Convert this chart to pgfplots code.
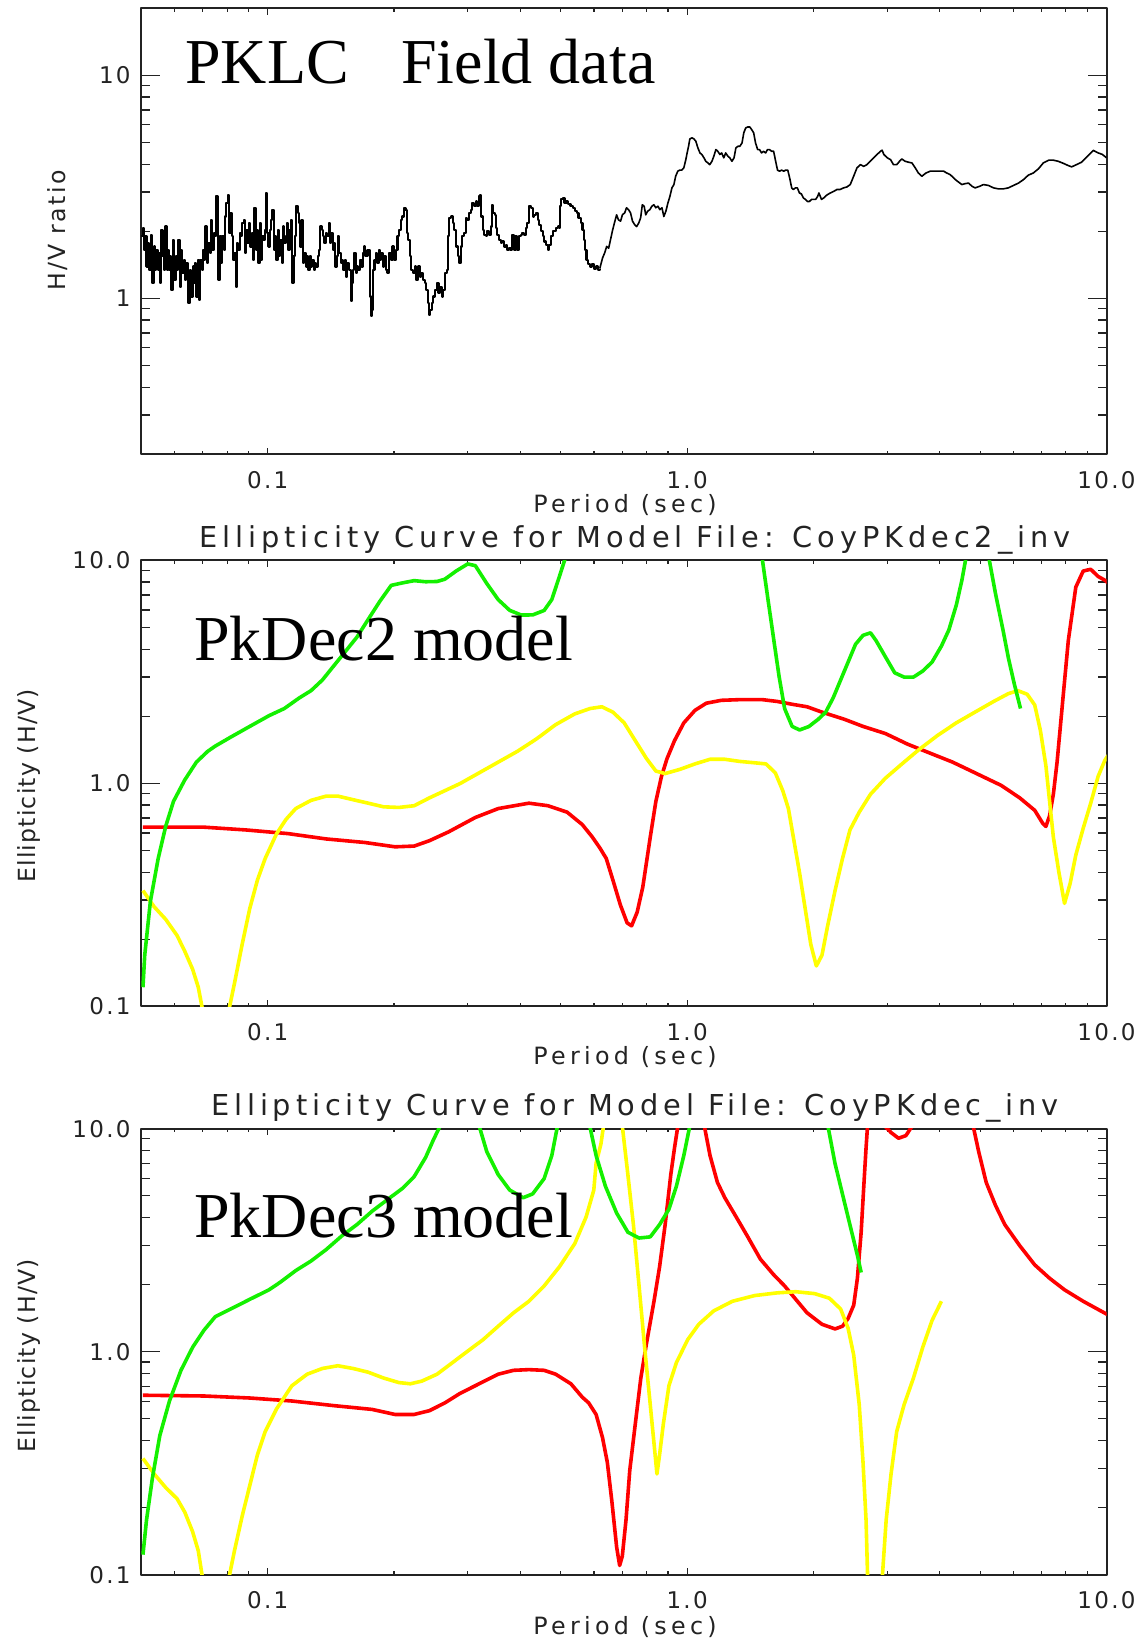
\documentclass[border=0pt]{standalone}
\usepackage{fontspec}
\setmainfont{Liberation Serif}
\newfontfamily\idltick[LetterSpace=10]{DejaVu Sans}
\newfontfamily\idltitle[LetterSpace=17]{DejaVu Sans}
\newfontfamily\idlxlab[LetterSpace=18]{DejaVu Sans}
\newfontfamily\idlylab[LetterSpace=5]{DejaVu Sans}
\usepackage{pgfplots}
\usepackage{pgfplotstable}
\pgfplotsset{compat=1.18}

\definecolor{idlred}{RGB}{255,0,0}
\definecolor{idlgreen}{RGB}{20,240,0}
\definecolor{idlyellow}{RGB}{255,255,0}
\definecolor{idlink}{RGB}{35,35,35}

\newcommand\ticklabfont{\idltick\fontsize{11.5}{13}\selectfont}
\newcommand\titlefont{\idltitle\fontsize{14.4}{16}\selectfont}
\newcommand\xlabfont{\idlxlab\fontsize{11.9}{13}\selectfont}
\newcommand\bigserif{\fontsize{32}{36}\selectfont}

% PKLC field H/V spectral ratio, short periods (noisy part): period (s), H/V
\pgfplotstableread{
p v
0.0500 1.90
0.0504 2.07
0.0506 1.65
0.0510 1.90
0.0514 1.39
0.0518 1.77
0.0522 1.34
0.0526 1.93
0.0530 1.44
0.0531 1.17
0.0535 1.71
0.0539 1.34
0.0542 1.65
0.0547 1.34
0.0551 1.60
0.0554 1.17
0.0557 2.03
0.0561 1.55
0.0565 1.34
0.0570 2.10
0.0574 1.34
0.0578 1.65
0.0582 1.34
0.0586 1.55
0.0589 1.09
0.0595 1.83
0.0599 1.21
0.0604 1.55
0.0608 1.34
0.0612 1.83
0.0617 1.13
0.0621 1.65
0.0626 1.30
0.0631 1.49
0.0635 1.21
0.0640 1.44
0.0645 1.09
0.0647 0.95
0.0652 1.34
0.0657 1.02
0.0662 1.39
0.0666 1.17
0.0671 1.44
0.0676 1.02
0.0681 1.49
0.0686 0.985
0.0691 1.49
0.0696 1.34
0.0701 1.65
0.0706 1.49
0.0710 2.10
0.0717 1.44
0.0722 1.77
0.0727 1.60
0.0733 2.25
0.0738 1.65
0.0744 1.96
0.0749 1.90
0.0754 2.87
0.0759 1.90
0.0763 1.21
0.0768 1.90
0.0773 1.44
0.0779 1.90
0.0785 1.65
0.0791 2.33
0.0797 2.68
0.0803 2.92
0.0809 1.96
0.0815 2.42
0.0820 1.90
0.0827 1.49
0.0833 1.60
0.0839 1.13
0.0845 1.77
0.0851 1.65
0.0857 1.96
0.0864 1.90
0.0870 2.18
0.0876 2.25
0.0883 1.60
0.0889 2.03
0.0895 1.77
0.0903 2.18
0.0909 1.71
0.0915 1.96
0.0923 1.49
0.0929 2.55
0.0936 1.65
0.0943 2.03
0.0950 1.44
0.0957 2.18
0.0964 1.49
0.0970 1.90
0.0977 1.83
0.0984 2.03
0.0990 2.97
0.0995 1.96
0.1004 1.71
0.1010 2.03
0.1019 2.25
0.1026 2.50
0.1033 1.65
0.1041 1.90
0.1048 1.49
0.1056 2.03
0.1064 1.55
0.1072 1.83
0.1079 1.44
0.1087 2.10
0.1095 1.77
0.1103 1.90
0.1111 2.18
0.1119 1.65
0.1127 2.03
0.1136 2.25
0.1144 1.17
0.1152 1.55
0.1161 1.90
0.1168 2.59
0.1178 2.42
0.1187 2.18
0.1195 1.71
0.1204 2.25
0.1214 1.44
0.1222 1.60
0.1232 1.39
0.1241 1.55
0.1249 1.34
0.1259 1.55
0.1268 1.39
0.1277 1.49
0.1288 1.34
0.1297 1.44
0.1306 1.39
0.1317 1.55
0.1326 1.65
0.1334 2.10
0.1345 2.03
0.1355 1.90
0.1364 1.77
0.1376 1.96
0.1386 1.90
0.1397 2.18
0.1407 1.77
0.1417 1.96
0.1428 1.65
0.1438 1.77
0.1448 1.39
0.1460 1.55
0.1471 1.90
0.1481 1.60
0.1493 1.44
0.1504 1.49
0.1514 1.34
0.1527 1.49
0.1537 1.25
0.1548 1.44
0.1560 1.34
0.1577 0.97
0.1585 1.17
0.1596 1.34
0.1607 1.60
0.1620 1.30
0.1631 1.39
0.1643 1.34
0.1656 1.49
0.1673 1.39
0.1686 1.60
0.1698 1.71
0.1710 1.55
0.1729 1.65
0.1754 1.02
0.1764 0.83
0.1774 0.89
0.1786 1.34
0.1797 1.49
0.1813 1.60
0.1826 1.44
0.1841 1.65
0.1853 1.49
0.1866 1.60
0.1881 1.39
0.1895 1.55
0.1912 1.34
0.1930 1.30
0.1947 1.60
0.1965 1.49
0.1984 1.71
0.2002 1.49
0.2021 1.65
0.2039 1.90
0.2058 2.03
0.2075 2.25
0.2094 2.33
0.2114 2.55
0.2131 2.50
0.2146 1.96
0.2161 1.83
0.2185 1.55
0.2200 1.34
0.2221 1.30
0.2241 1.39
0.2262 1.21
0.2283 1.39
0.2304 1.25
0.2325 1.30
0.2347 1.21
0.2368 1.17
0.2390 1.09
0.2413 0.95
0.2427 0.84
0.2443 0.89
0.2460 0.95
0.2483 1.02
0.2506 1.09
0.2529 1.17
0.2553 1.06
0.2577 1.13
0.2600 1.02
0.2624 1.09
0.2648 1.30
0.2673 1.34
0.2692 1.90
0.2710 2.30
0.2735 2.33
0.2761 2.18
0.2786 2.03
0.2812 1.71
0.2838 1.55
0.2858 1.44
0.2884 1.71
0.2911 1.90
0.2938 1.96
0.2965 2.30
0.2992 2.25
0.3020 2.42
0.3048 2.50
0.3076 2.68
0.3105 2.59
0.3133 2.72
0.3162 2.59
0.3192 2.87
0.3207 2.92
0.3232 2.33
0.3255 2.03
0.3277 1.93
0.3307 1.90
0.3338 2.00
0.3369 1.93
0.3400 2.10
0.3420 2.63
0.3444 2.42
0.3475 2.37
0.3500 2.07
0.3528 1.93
0.3561 1.83
0.3593 1.77
0.3626 1.80
0.3660 1.71
0.3694 1.74
0.3724 1.65
0.3758 1.68
0.3793 1.65
0.3828 1.93
0.3864 1.65
0.3899 1.90
0.3936 1.65
0.3972 1.90
0.4009 1.93
0.4046 1.96
0.4083 1.93
0.4121 2.07
0.4159 2.18
0.4198 2.59
0.4236 2.55
0.4281 2.33
0.4320 2.37
0.4360 2.42
0.4400 2.25
0.4441 2.14
0.4482 2.00
0.4524 1.90
0.4566 1.80
0.4608 1.74
0.4650 1.65
0.4693 1.74
0.4737 1.90
0.4781 2.00
0.4825 2.00
0.4870 2.07
0.4915 2.10
0.4961 2.07
0.4972 2.59
0.5012 2.78
0.5047 2.82
0.5100 2.68
0.5158 2.72
0.5212 2.64
0.5272 2.59
0.5333 2.55
0.5390 2.46
0.5452 2.42
0.5508 2.30
0.5572 2.18
0.5630 2.03
0.5669 1.83
0.5715 1.65
0.5754 1.49
0.5800 1.42
0.5861 1.39
0.5927 1.42
0.5990 1.36
0.6060 1.39
0.6120 1.34
0.6190 1.36
}\fieldnoisy

% PKLC field H/V spectral ratio, longer periods
\pgfplotstableread{
p v
0.6190 1.36
0.6288 1.52
0.636 1.60
0.643 1.71
0.650 1.68
0.657 1.84
0.6645 2.03
0.671 2.18
0.679 2.37
0.686 2.25
0.694 2.22
0.701 2.37
0.710 2.42
0.717 2.55
0.725 2.50
0.733 2.42
0.741 2.22
0.750 2.14
0.758 2.10
0.767 2.18
0.775 2.30
0.782 2.63
0.790 2.59
0.797 2.37
0.805 2.46
0.815 2.50
0.824 2.59
0.833 2.63
0.842 2.55
0.852 2.59
0.861 2.50
0.871 2.55
0.880 2.33
0.890 2.46
0.900 2.68
0.910 2.87
0.920 3.13
0.930 3.24
0.939 3.53
0.950 3.72
0.960 3.76
0.971 3.76
0.982 3.85
0.993 4.19
1.000 4.49
1.008 4.81
1.015 5.19
1.027 5.25
1.038 5.19
1.049 5.07
1.061 4.73
1.073 4.49
1.084 4.42
1.097 4.27
1.108 4.12
1.121 4.05
1.132 3.98
1.146 4.12
1.158 4.34
1.171 4.65
1.183 4.57
1.197 4.42
1.209 4.49
1.223 4.27
1.236 4.49
1.251 4.34
1.264 4.27
1.279 4.12
1.294 4.27
1.307 4.73
1.322 4.81
1.336 4.81
1.352 4.98
1.365 5.53
1.380 5.82
1.395 5.87
1.411 5.87
1.425 5.72
1.441 5.53
1.456 4.98
1.473 4.65
1.488 4.65
1.505 4.49
1.521 4.57
1.539 4.49
1.555 4.65
1.573 4.65
1.589 4.57
1.608 4.57
1.626 4.12
1.643 3.76
1.662 3.72
1.680 3.76
1.699 3.72
1.718 3.76
1.738 3.76
1.756 3.47
1.776 3.13
1.792 3.08
1.813 3.13
1.832 3.13
1.853 2.97
1.873 2.94
1.894 2.82
1.915 2.78
1.937 2.72
1.957 2.72
1.980 2.78
2.002 2.78
2.025 2.78
2.048 2.87
2.062 2.97
2.077 2.87
2.091 2.78
2.116 2.82
2.155 2.91
2.195 2.97
2.236 3.02
2.278 3.08
2.317 3.08
2.360 3.13
2.404 3.16
2.449 3.24
2.495 3.53
2.541 3.85
2.589 3.98
2.637 3.91
2.684 3.98
2.734 4.12
2.786 4.27
2.838 4.42
2.891 4.57
2.917 4.62
2.945 4.42
3.000 4.27
3.056 4.19
3.105 3.98
3.162 3.98
3.21 4.12
3.25 4.22
3.311 4.12
3.373 4.08
3.436 4.05
3.50 3.85
3.56 3.65
3.63 3.53
3.71 3.65
3.80 3.72
3.91 3.72
4.01 3.72
4.09 3.72
4.16 3.65
4.24 3.59
4.36 3.41
4.52 3.24
4.60 3.27
4.69 3.29
4.78 3.18
4.86 3.13
4.98 3.18
5.09 3.24
5.23 3.21
5.38 3.13
5.52 3.10
5.68 3.10
5.83 3.13
6.00 3.21
6.17 3.29
6.34 3.41
6.51 3.57
6.69 3.65
6.88 3.81
7.07 4.05
7.29 4.17
7.46 4.17
7.67 4.12
7.90 4.03
8.11 3.94
8.26 3.89
8.48 3.98
8.72 4.08
8.96 4.29
9.30 4.61
9.56 4.49
9.78 4.42
10.0 4.27
}\fieldsmooth

\begin{document}
\begin{tikzpicture}[line join=round]
\useasboundingbox (0pt,0pt) rectangle (573pt,821pt);

% ---------------- field data ----------------
\begin{axis}[at={(70.75pt,593.85pt)}, anchor=south west,
  xmode=log, ymode=log, scale only axis, width=482.5pt, height=223pt,
  xmin=0.05, xmax=10, ymin=0.2, ymax=20,
  xtick={0.1,1,10}, xticklabels={0.1,1.0,10.0},
  minor xtick={0.06,0.07,0.08,0.09,0.2,0.3,0.4,0.5,0.6,0.7,0.8,0.9,2,3,4,5,6,7,8,9},
  ytick={1,10}, yticklabels={1,10},
  minor ytick={0.3,0.4,0.5,0.6,0.7,0.8,0.9,2,3,4,5,6,7,8,9},
  axis line style={line width=1pt, idlink},
  tick style={line width=0.6pt, idlink},
  xtick style={/pgfplots/major tick length=3.25pt, /pgfplots/minor tick length=1.75pt},
  ytick style={/pgfplots/major tick length=9.5pt, /pgfplots/minor tick length=4.5pt},
  tick align=inside,
  tick label style={font=\ticklabfont, text=idlink},
  xticklabel style={inner sep=0pt, yshift=-8.3pt},
  yticklabel style={inner sep=0pt, xshift=-5.25pt}]
\addplot[const plot, black, line width=1.05pt] table[x=p, y=v] {\fieldnoisy};
\addplot[black, line width=0.8pt] table[x=p, y=v] {\fieldsmooth};
\end{axis}

% ---------------- PkDec2 model ----------------
\begin{axis}[at={(70.75pt,317.75pt)}, anchor=south west,
  xmode=log, ymode=log, scale only axis, width=482.5pt, height=223pt,
  xmin=0.05, xmax=10, ymin=0.1, ymax=10,
  xtick={0.1,1,10}, xticklabels={0.1,1.0,10.0},
  minor xtick={0.06,0.07,0.08,0.09,0.2,0.3,0.4,0.5,0.6,0.7,0.8,0.9,2,3,4,5,6,7,8,9},
  ytick={0.1,1,10}, yticklabels={0.1,1.0,10.0},
  minor ytick={0.2,0.3,0.4,0.5,0.6,0.7,0.8,0.9,2,3,4,5,6,7,8,9},
  axis line style={line width=1pt, idlink},
  tick style={line width=0.6pt, idlink},
  xtick style={/pgfplots/major tick length=3.25pt, /pgfplots/minor tick length=1.75pt},
  ytick style={/pgfplots/major tick length=9.5pt, /pgfplots/minor tick length=4.5pt},
  tick align=inside,
  tick label style={font=\ticklabfont, text=idlink},
  xticklabel style={inner sep=0pt, yshift=-8.3pt},
  yticklabel style={inner sep=0pt, xshift=-5.25pt}]
\addplot[line width=1.8pt, line join=round, idlred] coordinates {
(0.0504,0.637) (0.0705,0.637) (0.0887,0.619) (0.1118,0.596) (0.1379,0.564)
(0.1701,0.544) (0.2012,0.520) (0.2234,0.524) (0.2430,0.554) (0.2700,0.607)
(0.3126,0.704) (0.3545,0.772) (0.4195,0.816) (0.4658,0.795) (0.5173,0.744)
(0.5625,0.654) (0.5943,0.575) (0.6194,0.514) (0.6415,0.461) (0.6653,0.369)
(0.6934,0.285) (0.7195,0.237) (0.7374,0.230) (0.7603,0.265) (0.7840,0.343)
(0.8168,0.575) (0.8423,0.831) (0.8687,1.076) (0.8957,1.294) (0.9331,1.556)
(0.982,1.870) (1.044,2.128) (1.111,2.291) (1.206,2.36) (1.336,2.377)
(1.511,2.377) (1.640,2.333) (1.780,2.266) (1.932,2.208) (2.097,2.089)
(2.371,1.941) (2.627,1.803) (2.970,1.675) (3.358,1.50) (3.799,1.367)
(4.295,1.247) (4.760,1.137) (5.166,1.056) (5.607,0.981) (6.211,0.862)
(6.743,0.758) (7.053,0.661) (7.170,0.642) (7.318,0.717) (7.470,0.895)
(7.625,1.247) (7.862,2.333) (8.108,4.37) (8.45,7.60) (8.80,8.97)
(9.17,9.13) (9.55,8.48) (9.95,8.12) (10.1,7.9)};
\addplot[line width=1.8pt, line join=round, idlyellow] coordinates {
(0.0504,0.331) (0.0536,0.280) (0.0571,0.246) (0.0608,0.208) (0.0634,0.177)
(0.0662,0.147) (0.0683,0.122) (0.0697,0.0997) (0.0702,0.091)};
\addplot[line width=1.8pt, line join=round, idlyellow] coordinates {
(0.0806,0.091) (0.0811,0.0997) (0.0833,0.127) (0.0869,0.190) (0.0906,0.275)
(0.0945,0.369) (0.0986,0.461) (0.1050,0.596) (0.1106,0.691) (0.1166,0.772)
(0.1268,0.840) (0.1379,0.878) (0.1469,0.878) (0.1597,0.846) (0.1737,0.816)
(0.1889,0.786) (0.2055,0.781) (0.2234,0.795) (0.2430,0.862) (0.2643,0.928)
(0.2874,0.999) (0.3192,1.116) (0.3545,1.247) (0.3937,1.393) (0.4375,1.585)
(0.4858,1.836) (0.5395,2.051) (0.5868,2.168) (0.626,2.208) (0.6653,2.089)
(0.7078,1.871) (0.7524,1.556) (0.8000,1.294) (0.8423,1.137) (0.8864,1.108)
(0.9623,1.158) (1.044,1.224) (1.134,1.284) (1.230,1.284) (1.336,1.256)
(1.450,1.238) (1.542,1.224) (1.623,1.116) (1.691,0.928) (1.744,0.772)
(1.798,0.554) (1.854,0.398) (1.912,0.275) (1.972,0.190) (2.033,0.152)
(2.097,0.170) (2.162,0.229) (2.253,0.331) (2.347,0.461) (2.445,0.619)
(2.573,0.744) (2.737,0.895) (2.970,1.056) (3.291,1.247) (3.572,1.419)
(3.958,1.644) (4.385,1.871) (4.857,2.089) (5.382,2.333) (5.84,2.531)
(6.150,2.607) (6.471,2.512) (6.743,2.249) (6.953,1.738) (7.170,1.202)
(7.318,0.831) (7.470,0.575) (7.704,0.398) (7.943,0.290) (8.19,0.356)
(8.45,0.478) (8.80,0.630) (9.17,0.816) (9.55,1.076) (9.91,1.270) (10.1,1.34)};
\addplot[line width=1.8pt, line join=round, idlgreen] coordinates {
(0.0504,0.122) (0.0509,0.170) (0.0525,0.296) (0.0548,0.461) (0.0571,0.642)
(0.0596,0.831) (0.0634,1.037) (0.0676,1.247) (0.0719,1.393) (0.0750,1.472)
(0.0816,1.614) (0.0906,1.803) (0.1007,2.014) (0.1095,2.168) (0.1190,2.422)
(0.1268,2.607) (0.1350,2.912) (0.1438,3.375) (0.1532,3.911) (0.1632,4.534)
(0.1737,5.451) (0.1850,6.553) (0.1970,7.736) (0.2098,7.94) (0.2234,8.12)
(0.2379,8.03) (0.2534,8.05) (0.2643,8.24) (0.2814,8.97) (0.2998,9.65)
(0.3126,9.48) (0.3330,7.88) (0.3545,6.675) (0.3776,5.975) (0.4022,5.696)
(0.4282,5.70) (0.4561,5.97) (0.4757,6.68) (0.4960,8.48) (0.5119,10.2)};
\addplot[line width=1.8pt, line join=round, idlgreen] coordinates {
(1.511,10.13) (1.557,6.80) (1.606,4.53) (1.657,3.02) (1.708,2.168)
(1.780,1.803) (1.854,1.738) (1.951,1.80) (2.054,1.941) (2.140,2.089)
(2.230,2.422) (2.323,2.912) (2.420,3.501) (2.521,4.21) (2.627,4.617)
(2.737,4.738) (2.822,4.37) (2.970,3.70) (3.127,3.135) (3.291,3.0)
(3.465,3.0) (3.646,3.193) (3.837,3.501) (4.040,4.133) (4.208,4.879)
(4.385,6.317) (4.522,8.18) (4.616,10.13)};
\addplot[line width=1.8pt, line join=round, idlgreen] coordinates {
(5.25,10.13) (5.44,7.06) (5.665,4.88) (5.84,3.63) (6.025,2.806) (6.237,2.168)};
\end{axis}

% ---------------- PkDec3 model ----------------
\begin{axis}[at={(70.75pt,33.65pt)}, anchor=south west,
  xmode=log, ymode=log, scale only axis, width=482.5pt, height=223pt,
  xmin=0.05, xmax=10, ymin=0.1, ymax=10,
  xtick={0.1,1,10}, xticklabels={0.1,1.0,10.0},
  minor xtick={0.06,0.07,0.08,0.09,0.2,0.3,0.4,0.5,0.6,0.7,0.8,0.9,2,3,4,5,6,7,8,9},
  ytick={0.1,1,10}, yticklabels={0.1,1.0,10.0},
  minor ytick={0.2,0.3,0.4,0.5,0.6,0.7,0.8,0.9,2,3,4,5,6,7,8,9},
  axis line style={line width=1pt, idlink},
  tick style={line width=0.6pt, idlink},
  xtick style={/pgfplots/major tick length=3.25pt, /pgfplots/minor tick length=1.75pt},
  ytick style={/pgfplots/major tick length=9.5pt, /pgfplots/minor tick length=4.5pt},
  tick align=inside,
  tick label style={font=\ticklabfont, text=idlink},
  xticklabel style={inner sep=0pt, yshift=-8.3pt},
  yticklabel style={inner sep=0pt, xshift=-5.25pt}]
\addplot[line width=1.8pt, line join=round, idlred] coordinates {
(0.0504,0.638) (0.0705,0.633) (0.0906,0.620) (0.1142,0.601) (0.1438,0.573)
(0.1774,0.551) (0.2012,0.523) (0.2234,0.523) (0.2430,0.544) (0.2643,0.589)
(0.2874,0.650) (0.3192,0.718) (0.3545,0.793) (0.3857,0.825) (0.4195,0.831)
(0.4561,0.825) (0.4858,0.793) (0.5283,0.718) (0.5625,0.625) (0.5823,0.590)
(0.6067,0.523) (0.6284,0.412) (0.6453,0.319) (0.6613,0.215) (0.6792,0.133)
(0.6905,0.110) (0.7005,0.121) (0.7150,0.176) (0.7299,0.294) (0.7524,0.474)
(0.7757,0.762) (0.8000,1.088) (0.8337,1.683) (0.8597,2.403) (0.8864,3.715)
(0.9142,6.22) (0.9331,8.20) (0.9506,10.3)};
\addplot[line width=1.8pt, line join=round, idlred] coordinates {
(1.099,10.3) (1.134,7.58) (1.181,5.743) (1.230,4.902) (1.309,4.022)
(1.392,3.299) (1.495,2.602) (1.606,2.221) (1.708,1.972) (1.816,1.717)
(1.932,1.494) (2.097,1.327) (2.253,1.265) (2.347,1.301) (2.420,1.408)
(2.496,1.617) (2.547,2.134) (2.600,3.433) (2.638,5.52) (2.671,8.20) (2.693,10.3)};
\addplot[line width=1.8pt, line join=round, idlred] coordinates {
(2.958,10.3) (3.064,9.61) (3.192,9.06) (3.324,9.31) (3.443,10.3)};
\addplot[line width=1.8pt, line join=round, idlred] coordinates {
(4.808,10.3) (4.958,7.88) (5.166,5.743) (5.437,4.529) (5.722,3.715)
(6.211,2.988) (6.743,2.452) (7.318,2.134) (7.943,1.895) (8.80,1.683)
(9.95,1.483) (10.1,1.46)};
\addplot[line width=1.8pt, line join=round, idlyellow] coordinates {
(0.0504,0.332) (0.0536,0.283) (0.0571,0.246) (0.0608,0.219) (0.0634,0.191)
(0.0662,0.156) (0.0683,0.128) (0.0697,0.100) (0.0702,0.094)};
\addplot[line width=1.8pt, line join=round, idlyellow] coordinates {
(0.0806,0.094) (0.0811,0.100) (0.0833,0.128) (0.0869,0.183) (0.0906,0.251)
(0.0945,0.345) (0.0986,0.438) (0.1050,0.555) (0.1142,0.704) (0.1242,0.793)
(0.1350,0.841) (0.1469,0.865) (0.1597,0.841) (0.1737,0.809) (0.1889,0.762)
(0.2055,0.727) (0.2188,0.718) (0.2330,0.738) (0.2534,0.793) (0.2756,0.893)
(0.2998,1.006) (0.3261,1.132) (0.3545,1.301) (0.3857,1.494) (0.4195,1.683)
(0.4561,1.972) (0.4960,2.403) (0.5395,3.048) (0.5744,4.022) (0.5991,5.306)
(0.6067,7.0) (0.6230,8.54) (0.6320,10.3)};
\addplot[line width=1.8pt, line join=round, idlyellow] coordinates {
(0.7005,10.3) (0.7224,6.22) (0.7447,3.715) (0.7681,1.972) (0.7920,1.046)
(0.8168,0.578) (0.8337,0.389) (0.8474,0.283) (0.8597,0.345) (0.8776,0.474)
(0.9049,0.704) (0.9428,0.893) (1.003,1.132) (1.066,1.327) (1.157,1.524)
(1.282,1.683) (1.450,1.786) (1.640,1.836) (1.816,1.858) (2.013,1.822)
(2.184,1.737) (2.323,1.554) (2.420,1.275) (2.496,0.966) (2.573,0.578)
(2.627,0.319) (2.671,0.176) (2.693,0.100) (2.698,0.094)};
\addplot[line width=1.8pt, line join=round, idlyellow] coordinates {
(2.917,0.094) (2.923,0.100) (2.983,0.176) (3.064,0.283) (3.160,0.438)
(3.291,0.578) (3.465,0.762) (3.646,1.046) (3.837,1.380) (4.040,1.683)};
\addplot[line width=1.8pt, line join=round, idlgreen] coordinates {
(0.0504,0.123) (0.0514,0.176) (0.0531,0.272) (0.0553,0.421) (0.0583,0.601)
(0.0621,0.825) (0.0662,1.046) (0.0705,1.250) (0.0750,1.436) (0.0816,1.554)
(0.0906,1.717) (0.1007,1.895) (0.1072,2.051) (0.1166,2.31) (0.1268,2.55)
(0.1379,2.873) (0.1500,3.299) (0.1632,3.715) (0.1774,4.267) (0.1929,4.807)
(0.2098,5.41) (0.2234,6.095) (0.2379,7.43) (0.2481,8.88) (0.2577,10.3)};
\addplot[line width=1.8pt, line join=round, idlgreen] coordinates {
(0.3192,10.3) (0.3330,7.88) (0.3545,6.22) (0.3776,5.306) (0.4064,4.902)
(0.4282,5.10) (0.4561,5.975) (0.4757,7.58) (0.4909,10.3)};
\addplot[line width=1.8pt, line join=round, idlgreen] coordinates {
(0.5859,10.3) (0.6067,7.58) (0.6386,5.52) (0.6792,4.183) (0.7224,3.433)
(0.7681,3.234) (0.8168,3.273) (0.8597,3.715) (0.9049,4.353) (0.9428,5.52)
(0.982,7.58) (1.015,10.3)};
\addplot[line width=1.8pt, line join=round, idlgreen] coordinates {
(2.166,10.3) (2.252,7.0) (2.346,5.10) (2.444,3.715) (2.547,2.706) (2.600,2.265)};
\end{axis}

% ---------------- titles and axis labels ----------------
\node[anchor=base west, font=\bigserif, inner sep=0pt] at (92.5pt,779.25pt) {PKLC};
\node[anchor=base west, font=\bigserif, inner sep=0pt] at (200.5pt,779.25pt) {Field data};
\node[anchor=base west, font=\bigserif, inner sep=0pt] at (97pt,490.5pt) {PkDec2 model};
\node[anchor=base west, font=\bigserif, inner sep=0pt] at (97pt,202.25pt) {PkDec3 model};

\node[anchor=base, font=\titlefont, text=idlink, inner sep=0pt] at (317.5pt,547.15pt)
  {Ellipticity Curve for Model File: CoyPKdec2\_inv};
\node[anchor=base, font=\titlefont, text=idlink, inner sep=0pt] at (317.5pt,263.2pt)
  {Ellipticity Curve for Model File: CoyPKdec\_inv};

\node[anchor=base, font=\xlabfont, text=idlink, inner sep=0pt] at (312.5pt,564.5pt) {Period (sec)};
\node[anchor=base, font=\xlabfont, text=idlink, inner sep=0pt] at (312.5pt,288.5pt) {Period (sec)};
\node[anchor=base, font=\xlabfont, text=idlink, inner sep=0pt] at (312.5pt,4pt) {Period (sec)};

\node[rotate=90, font={\idltick\fontsize{11.8}{13}\selectfont}, text=idlink, inner sep=0pt]
  at (28.8pt,705.7pt) {H/V ratio};
\node[rotate=90, font={\idlylab\fontsize{11.8}{13}\selectfont}, text=idlink, inner sep=0pt]
  at (14.6pt,428pt) {Ellipticity (H/V)};
\node[rotate=90, font={\idlylab\fontsize{11.8}{13}\selectfont}, text=idlink, inner sep=0pt]
  at (14.6pt,143pt) {Ellipticity (H/V)};
\end{tikzpicture}
\end{document}
